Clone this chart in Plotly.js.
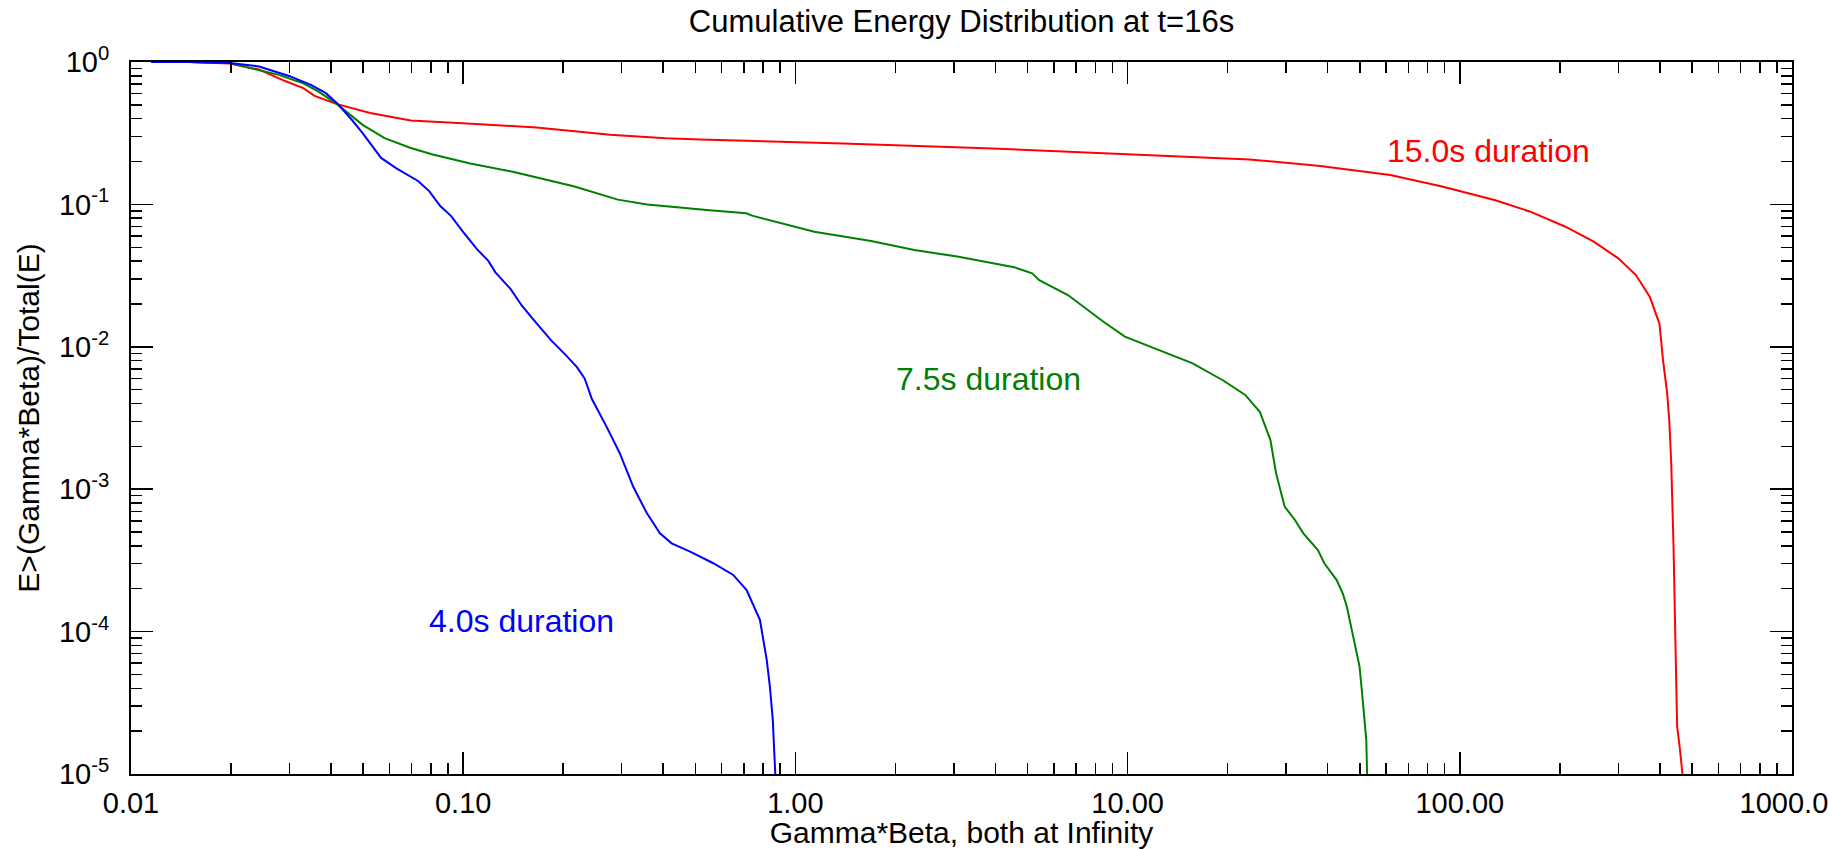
<!DOCTYPE html>
<html>
<head>
<meta charset="utf-8">
<script src="https://cdn.plot.ly/plotly-3.0.1.min.js"></script>
<style>html,body{margin:0;padding:0;background:#fff;overflow:hidden}</style>
</head>
<body>
<div id="chart" style="width:1829px;height:849px"></div>
<script>
// ---- data ----
const redX = [0.0115,0.015,0.0198,0.0243,0.0291,0.033,0.0357,0.0417,0.0525,0.0596,0.0695,0.0995,0.166,0.277,0.407,0.516,1.39,3.74,10.07,23.3,38.0,61.8,89.1,128,163,208,253,300,339,373,392,399,409,421,427,433,440,446,451,459,468];
const redY = [1.0,0.998,0.975,0.885,0.735,0.655,0.578,0.506,0.438,0.415,0.389,0.372,0.347,0.309,0.291,0.286,0.268,0.248,0.226,0.207,0.186,0.161,0.133,0.107,0.0889,0.0697,0.0547,0.0418,0.0319,0.0225,0.0163,0.0146,0.00807,0.00471,0.00306,0.00152,0.000394,0.000078,0.0000215,0.0000156,0.00001];

const greenX = [0.0115,0.015,0.0198,0.0277,0.033,0.0366,0.0417,0.0498,0.058,0.0695,0.081,0.092,0.105,0.142,0.215,0.292,0.358,0.551,0.712,0.74,1.007,1.14,1.69,2.28,3.07,4.56,5.16,5.42,6.61,8.46,9.81,11.7,15.7,19.4,22.6,25.0,26.9,28.0,29.7,31.9,33.8,37.4,39.1,42.6,44.4,45.7,47.1,48.4,49.9,50.8,51.7,52.3,52.6];
const greenY = [1.0,0.998,0.982,0.815,0.709,0.621,0.506,0.362,0.292,0.249,0.224,0.209,0.194,0.169,0.134,0.108,0.100,0.091,0.0866,0.0834,0.0698,0.0643,0.0553,0.0478,0.043,0.0362,0.0328,0.0294,0.0231,0.015,0.0118,0.0100,0.00766,0.0058,0.00459,0.0035,0.00222,0.00129,0.000754,0.000608,0.00049,0.000374,0.000302,0.00023,0.000186,0.00015,0.000108,0.000078,0.000057,0.000037,0.000025,0.0000173,0.00001];

const blueX = [0.0115,0.015,0.0198,0.0243,0.0299,0.0348,0.0386,0.0417,0.0462,0.0498,0.0566,0.0628,0.0731,0.079,0.0853,0.092,0.0995,0.110,0.119,0.125,0.139,0.150,0.162,0.184,0.204,0.220,0.232,0.244,0.270,0.296,0.325,0.357,0.391,0.424,0.482,0.566,0.650,0.713,0.782,0.820,0.838,0.855,0.863,0.87];
const blueY = [1.0,0.999,0.985,0.93,0.798,0.69,0.604,0.514,0.393,0.317,0.212,0.180,0.146,0.124,0.0973,0.0828,0.065,0.0485,0.0401,0.0333,0.0254,0.0195,0.0157,0.0111,0.0087,0.0072,0.0060,0.0043,0.00275,0.00179,0.00104,0.00068,0.00049,0.000417,0.000364,0.000302,0.00025,0.000196,0.000121,0.000063,0.000041,0.000024,0.0000148,0.00001];

const seriesNames = ['15.0s duration','7.5s duration','4.0s duration'];
const seriesColors = ['#ff0000','#008000','#0000ff'];

const xTickVals = [0.01,0.1,1,10,100,1000];
const xTickText = ['0.01','0.10','1.00','10.00','100.00','1000.00'];
const yTickVals = [1e-5,1e-4,1e-3,1e-2,1e-1,1];
const yTickText = ['10<sup>-5</sup>','10<sup>-4</sup>','10<sup>-3</sup>','10<sup>-2</sup>','10<sup>-1</sup>','10<sup>0</sup>'];

const FONT = '"Liberation Sans", Arial, Helvetica, sans-serif';

const traces = [
  {x: redX, y: redY, name: seriesNames[0]},
  {x: greenX, y: greenY, name: seriesNames[1]},
  {x: blueX, y: blueY, name: seriesNames[2]}
].map((t, i) => Object.assign(t, {
  type: 'scatter', mode: 'lines',
  line: {color: seriesColors[i], width: 2},
  hoverinfo: 'skip'
}));

const axisCommon = {
  type: 'log',
  showgrid: false, zeroline: false,
  showline: true, linecolor: 'black', linewidth: 2,
  mirror: 'allticks',
  ticks: 'inside', ticklen: 22, tickwidth: 1.5, tickcolor: 'black',
  tickmode: 'array',
  minor: {ticks: 'inside', ticklen: 11, tickwidth: 1.5, tickcolor: 'black', dtick: 'D1', showgrid: false},
  tickfont: {family: FONT, size: 29, color: 'black'}
};

const layout = {
  width: 1829, height: 849,
  margin: {l: 131, r: 37, t: 62, b: 75, pad: 0},
  paper_bgcolor: '#ffffff', plot_bgcolor: '#ffffff',
  showlegend: false,
  font: {family: FONT, color: 'black', size: 29},
  title: {
    text: 'Cumulative Energy Distribution at t=16s',
    font: {family: FONT, size: 31, color: 'black'},
    x: 0.5, xref: 'paper', xanchor: 'center',
    y: 1 - 21/849, yref: 'container', yanchor: 'middle'
  },
  xaxis: Object.assign({}, axisCommon, {
    range: [-2, 3],
    tickvals: xTickVals, ticktext: xTickText,
    ticklabeloverflow: 'allow',
    ticklabelstandoff: 2,
    title: {text: 'Gamma*Beta, both at Infinity', font: {family: FONT, size: 30, color: 'black'}, standoff: 7}
  }),
  yaxis: Object.assign({}, axisCommon, {
    range: [-5, 0],
    tickvals: yTickVals, ticktext: yTickText,
    ticklabelstandoff: 14,
    title: {text: 'E>(Gamma*Beta)/Total(E)', font: {family: FONT, size: 30, color: 'black'}, standoff: 10}
  }),
  annotations: [
    {text: seriesNames[0], x: 0.817, y: 0.875, font: {color: seriesColors[0]}},
    {text: seriesNames[1], x: 0.516, y: 0.555, font: {color: seriesColors[1]}},
    {text: seriesNames[2], x: 0.2354, y: 0.215, font: {color: seriesColors[2]}}
  ].map(a => Object.assign(a, {
    xref: 'paper', yref: 'paper', xanchor: 'center', yanchor: 'middle',
    showarrow: false,
    font: Object.assign({family: FONT, size: 32}, a.font)
  }))
};

Plotly.newPlot('chart', traces, layout, {displayModeBar: false, staticPlot: true});
</script>
</body>
</html>
